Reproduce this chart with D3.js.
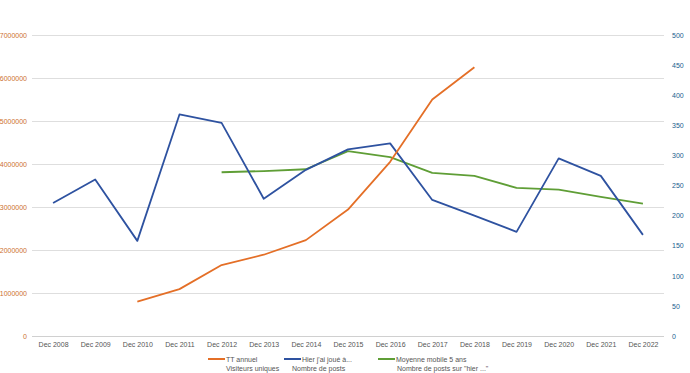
<!DOCTYPE html>
<html>
<head>
<meta charset="utf-8">
<script src="https://cdn.jsdelivr.net/npm/d3@7"></script>
<style>
  body { margin: 0; background: #fff; }
  svg { display: block; font-family: "Liberation Sans", Arial, sans-serif; }
</style>
</head>
<body>
<svg width="690" height="373"></svg>
<script>
// categories
const months = ["Dec 2008", "Dec 2009", "Dec 2010", "Dec 2011", "Dec 2012", "Dec 2013", "Dec 2014",
  "Dec 2015", "Dec 2016", "Dec 2017", "Dec 2018", "Dec 2019", "Dec 2020", "Dec 2021", "Dec 2022"];

// TT annuel - visiteurs uniques (left axis)
const visitors = [null, null, 800000, 1090000, 1650000, 1890000, 2230000,
  2940000, 4050000, 5500000, 6250000, null, null, null, null];

// Hier j'ai joué à... - nombre de posts (right axis)
const posts = [221, 260, 158, 368, 354, 228, 276, 310, 320, 226, 200, 173, 295, 266, 168];

// moyenne mobile 5 ans (right axis)
const movingAvg = [null, null, null, null, 272, 274, 277, 307, 297, 271, 266, 246, 243, 231, 220];

const leftTicks = [0, 1000000, 2000000, 3000000, 4000000, 5000000, 6000000, 7000000];
const rightTicks = [0, 50, 100, 150, 200, 250, 300, 350, 400, 450, 500];

const legendItems = [
  { name: "TT annuel", sub: "Visiteurs uniques", color: "#e46f27", x: 208, subX: 226 },
  { name: "Hier j'ai joué à...", sub: "Nombre de posts", color: "#2e52a0", x: 284, subX: 292 },
  { name: "Moyenne mobile 5 ans", sub: "Nombre de posts sur \"hier ...\"", color: "#5f9e36", x: 378, subX: 397 }
];

const svg = d3.select("svg");
const plotLeft = 32, plotRight = 664, plotTop = 35, plotBottom = 336;

let x = d3.scalePoint()
    .domain(months)
    .range([plotLeft, plotRight])
    .padding(0.5);

let yLeft = d3.scaleLinear().domain([0, 7000000]).range([plotBottom, plotTop]);
let yRight = d3.scaleLinear().domain([0, 500]).range([plotBottom, plotTop]);

// gridlines follow the left axis
svg.append("g")
  .selectAll("line")
  .data(leftTicks.slice(1))
  .join("line")
    .attr("x1", plotLeft).attr("x2", plotRight)
    .attr("y1", d => Math.round(yLeft(d)) + 0.5).attr("y2", d => Math.round(yLeft(d)) + 0.5)
    .attr("stroke", "#dedede").attr("stroke-width", 1);

// left axis
let axL = svg.append("g")
  .attr("transform", `translate(${plotLeft - 5},0)`)
  .call(d3.axisLeft(yLeft).tickValues(leftTicks).tickFormat(d3.format("d")).tickSize(0));
axL.select(".domain").remove();
axL.selectAll("text").attr("fill", "#cc7030").attr("font-size", 7).attr("x", 0);

// right axis
let axR = svg.append("g")
  .attr("transform", `translate(${plotRight + 8},0)`)
  .call(d3.axisRight(yRight).tickValues(rightTicks).tickSize(0));
axR.select(".domain").remove();
axR.selectAll("text").attr("fill", "#22608e").attr("font-size", 7).attr("x", 0);

// bottom axis
let axB = svg.append("g")
  .attr("transform", `translate(0,${plotBottom})`)
  .call(d3.axisBottom(x).tickSize(0).tickPadding(6));
axB.select(".domain").attr("stroke", "#d0d0d0").attr("d", `M${plotLeft},0.5H${plotRight}`);
axB.selectAll("text").attr("fill", "#555").attr("font-size", 7);

function drawLine(values, scale, color) {
  let line = d3.line()
    .defined(d => d != null)
    .x((d, i) => x(months[i]))
    .y(d => scale(d));
  svg.append("path")
    .datum(values)
    .attr("fill", "none")
    .attr("stroke", color)
    .attr("stroke-width", 1.8)
    .attr("stroke-linejoin", "round")
    .attr("d", line);
}

drawLine(movingAvg, yRight, legendItems[2].color);
drawLine(posts, yRight, legendItems[1].color);
drawLine(visitors, yLeft, legendItems[0].color);

// legend
let lg = svg.append("g").selectAll("g").data(legendItems).join("g");
lg.append("line")
  .attr("x1", d => d.x).attr("x2", d => d.x + 17)
  .attr("y1", 359).attr("y2", 359)
  .attr("stroke", d => d.color).attr("stroke-width", 2);
lg.append("text")
  .attr("x", d => d.x + 18).attr("y", 361.5)
  .attr("font-size", 7).attr("fill", "#555")
  .text(d => d.name);
lg.append("text")
  .attr("x", d => d.subX).attr("y", 370.5)
  .attr("font-size", 7).attr("fill", "#555")
  .text(d => d.sub);
</script>
</body>
</html>
